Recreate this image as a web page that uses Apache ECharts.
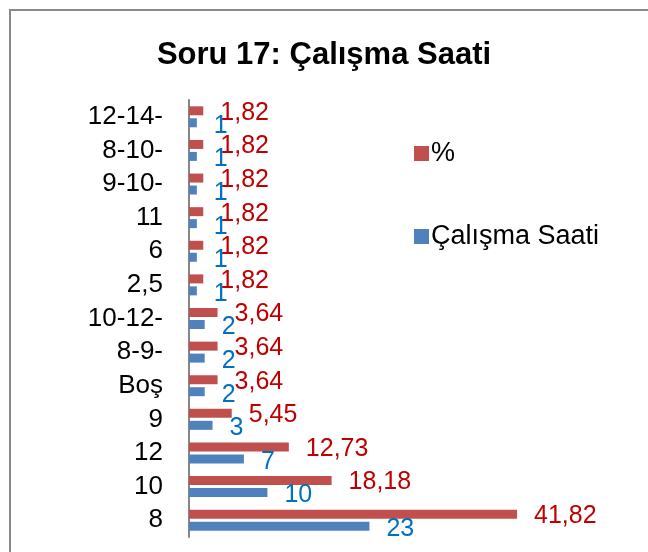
<!DOCTYPE html>
<html>
<head>
<meta charset="utf-8">
<script src="https://cdn.jsdelivr.net/npm/echarts@6/dist/echarts.min.js"></script>
<style>
  html, body { margin: 0; padding: 0; background: #fff; }
  #chart { width: 648px; height: 552px; }
</style>
</head>
<body>
<div id="chart"></div>
<script>
// kategoriler (alttan üste)
const categories = ['8', '10', '12', '9', 'Boş', '8-9-', '10-12-', '2,5', '6', '11', '9-10-', '8-10-', '12-14-']
// yüzde değerleri
const percentValues = [41.82, 18.18, 12.73, 5.45, 3.64, 3.64, 3.64, 1.82, 1.82, 1.82, 1.82, 1.82, 1.82]
// çalışma saati sayıları
const hourCounts = [23, 10, 7, 3, 2, 2, 2, 1, 1, 1, 1, 1, 1]

const chart = echarts.init(document.getElementById('chart'))

const fmt = (p) => String(p.value).replace('.', ',')

const option = {
  animation: false,
  textStyle: { fontFamily: 'Liberation Sans, Arial, sans-serif' },
  title: {
    text: 'Soru 17: Çalışma Saati',
    left: 'center',
    top: 35,
    textStyle: { fontSize: 31, fontWeight: 'bold', color: '#000', fontFamily: 'Liberation Sans, Arial, sans-serif' }
  },
  legend: {
    orient: 'vertical',
    left: 409,
    top: 135,
    icon: 'rect',
    itemWidth: 15,
    itemHeight: 15,
    itemGap: 56,
    data: ['%', 'Çalışma Saati'],
    textStyle: { fontSize: 27, color: '#000', lineHeight: 27, padding: [0, 0, 0, -3] }
  },
  graphic: [{
    type: 'rect',
    shape: { x: 10, y: 10, width: 800, height: 700 },
    style: { fill: 'none', stroke: '#898989', lineWidth: 2 },
    silent: true
  }],
  grid: { left: 189, top: 100, right: 106, bottom: 15, containLabel: false },
  xAxis: {
    type: 'value',
    min: 0,
    max: 45,
    show: false
  },
  yAxis: {
    type: 'category',
    data: categories,
    axisLine: { lineStyle: { color: '#868686', width: 2 } },
    axisTick: { show: false },
    axisLabel: { fontSize: 26, color: '#000', margin: 26, interval: 0 }
  },
  series: [
    {
      name: '%',
      type: 'bar',
      data: percentValues,
      barWidth: 9,
      barGap: '33%',
      itemStyle: { color: '#C0504D' },
      label: {
        show: true, position: 'right', distance: 17, offset: [0, 2],
        fontSize: 25, color: '#C00000', formatter: fmt
      }
    },
    {
      name: 'Çalışma Saati',
      type: 'bar',
      data: hourCounts,
      barWidth: 9,
      barGap: '33%',
      itemStyle: { color: '#4F81BD' },
      label: {
        show: true, position: 'right', distance: 17, offset: [0, 3],
        fontSize: 25, color: '#0070C0', formatter: fmt
      }
    }
  ]
}

chart.setOption(option)
</script>
</body>
</html>
